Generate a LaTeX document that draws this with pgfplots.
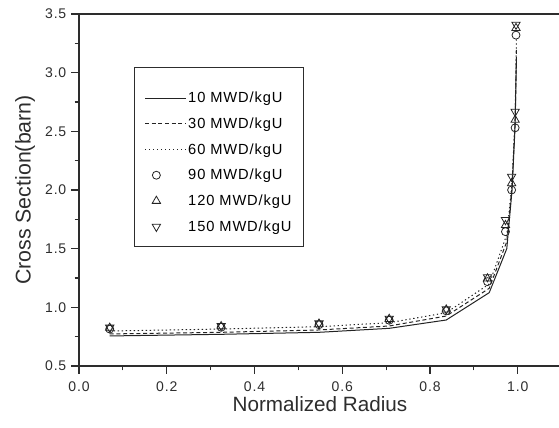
\documentclass[border=0pt]{standalone}
\usepackage{pgfplots}
\pgfplotsset{compat=1.18}
\usepackage{fontspec}
\setmainfont{Liberation Sans}
\newfontfamily\spaced[LetterSpace=6]{Liberation Sans}
\definecolor{ln}{RGB}{35,35,35}
\definecolor{ax}{RGB}{45,45,45}
\pgfplotsset{markleg/.style={legend image code/.code={\node[text height=0pt, text depth=0pt, inner sep=0pt, minimum width=30.5pt, minimum height=0pt, anchor=west, draw=none] at (0pt,-4pt) {}; \draw[##1] plot coordinates {(8.5pt,-4pt)};}}}
\begin{document}
\begin{tikzpicture}
\begin{axis}[
  scale only axis, width=360pt, height=264pt,
  xmin=0, xmax=1.094, ymin=0.5, ymax=3.5,
  axis line style={draw=none},
  xtick={0,0.2,0.4,0.6,0.8,1.0},
  ytick={0.5,1.0,1.5,2.0,2.5,3.0,3.5},
  minor x tick num=1, minor y tick num=1,
  tick align=outside, tick pos=left,
  major tick length=6pt, minor tick length=3.2pt,
  every tick/.style={ax, line width=0.8pt},
  /pgf/number format/assume math mode=true,
  /pgf/number format/fixed, /pgf/number format/fixed zerofill,
  /pgf/number format/precision=1,
  tick label style={font=\spaced\fontsize{10.5}{12}\selectfont, text=ax},
  xticklabel style={yshift=-2pt},
  xlabel={Normalized Radius}, ylabel={Cross Section(barn)},
  every axis x label/.style={at={(axis description cs:0.502,-0.108)}, anchor=center, font=\fontsize{15.5}{18}\selectfont, text=ax},
  every axis y label/.style={at={(axis description cs:-0.1125,0.5)}, rotate=90, anchor=center, font=\fontsize{16}{18}\selectfont, text=ax},
  legend style={at={(rel axis cs:0.1146,0.849)}, anchor=north west, draw=ax, line width=0.8pt,
    font=\spaced\fontsize{11}{13}\selectfont, inner xsep=7.5pt, inner ysep=9.4pt, row sep=0.6pt,
    nodes={text height=16.85pt, text depth=1.85pt, inner ysep=0pt, inner xsep=1.5pt}},
  legend cell align=left,
  legend image code/.code={\draw[#1] (0pt,-4pt) -- (30.5pt,-4pt);},
  clip=false,
]
\addplot[ln, line width=0.75pt, solid] coordinates {
(0.070,0.756) (0.324,0.770) (0.547,0.787) (0.707,0.821) (0.837,0.892) (0.935,1.125) (0.975,1.50) (0.987,2.0) (0.994,2.55) (0.997,3.12)};
\addlegendentry{10 MWD/kgU\hspace{23pt}}
\addplot[ln, line width=0.75pt, dash pattern=on 3pt off 2pt] coordinates {
(0.070,0.773) (0.324,0.787) (0.547,0.807) (0.707,0.841) (0.837,0.926) (0.935,1.162) (0.975,1.56) (0.987,2.03) (0.994,2.58) (0.997,3.20)};
\addlegendentry{30 MWD/kgU}
\addplot[ln, line width=0.75pt, dash pattern=on 1pt off 2pt] coordinates {
(0.070,0.798) (0.324,0.815) (0.547,0.835) (0.707,0.869) (0.837,0.954) (0.935,1.199) (0.975,1.62) (0.987,2.06) (0.994,2.62) (0.997,3.30)};
\addlegendentry{60 MWD/kgU}
\addplot[ln, only marks, mark=o, mark size=3pt, mark options={line width=0.6pt, fill=white}, markleg] coordinates {
(0.070,0.815) (0.324,0.830) (0.547,0.852) (0.707,0.890) (0.837,0.970) (0.931,1.219) (0.972,1.645) (0.986,2.000) (0.994,2.530) (0.996,3.320)};
\addlegendentry{90 MWD/kgU}
\addplot[ln, only marks, mark=triangle, mark size=3.6pt, mark options={line width=0.6pt}, markleg] coordinates {
(0.070,0.825) (0.324,0.838) (0.547,0.860) (0.707,0.900) (0.837,0.980) (0.931,1.245) (0.972,1.700) (0.986,2.057) (0.994,2.597) (0.996,3.380)};
\addlegendentry{120 MWD/kgU}
\addplot[ln, only marks, mark=triangle, mark size=3.6pt, mark options={line width=0.6pt, rotate=180}, markleg] coordinates {
(0.070,0.828) (0.324,0.842) (0.547,0.864) (0.707,0.904) (0.837,0.985) (0.931,1.258) (0.972,1.745) (0.986,2.114) (0.994,2.668) (0.996,3.410)};
\addlegendentry{150 MWD/kgU}
\draw[ax, line width=1pt] (rel axis cs:0,1) -- (rel axis cs:0,0) -- (rel axis cs:1,0);
\draw[ax, line width=1pt] (rel axis cs:0,1) -- (rel axis cs:1,1);
\coordinate (bl) at (rel axis cs:-0.1646,-0.1761);
\coordinate (tr) at (rel axis cs:1,1.0398);
\end{axis}
\pgfresetboundingbox
\path (bl) rectangle (tr);
\end{tikzpicture}
\end{document}
